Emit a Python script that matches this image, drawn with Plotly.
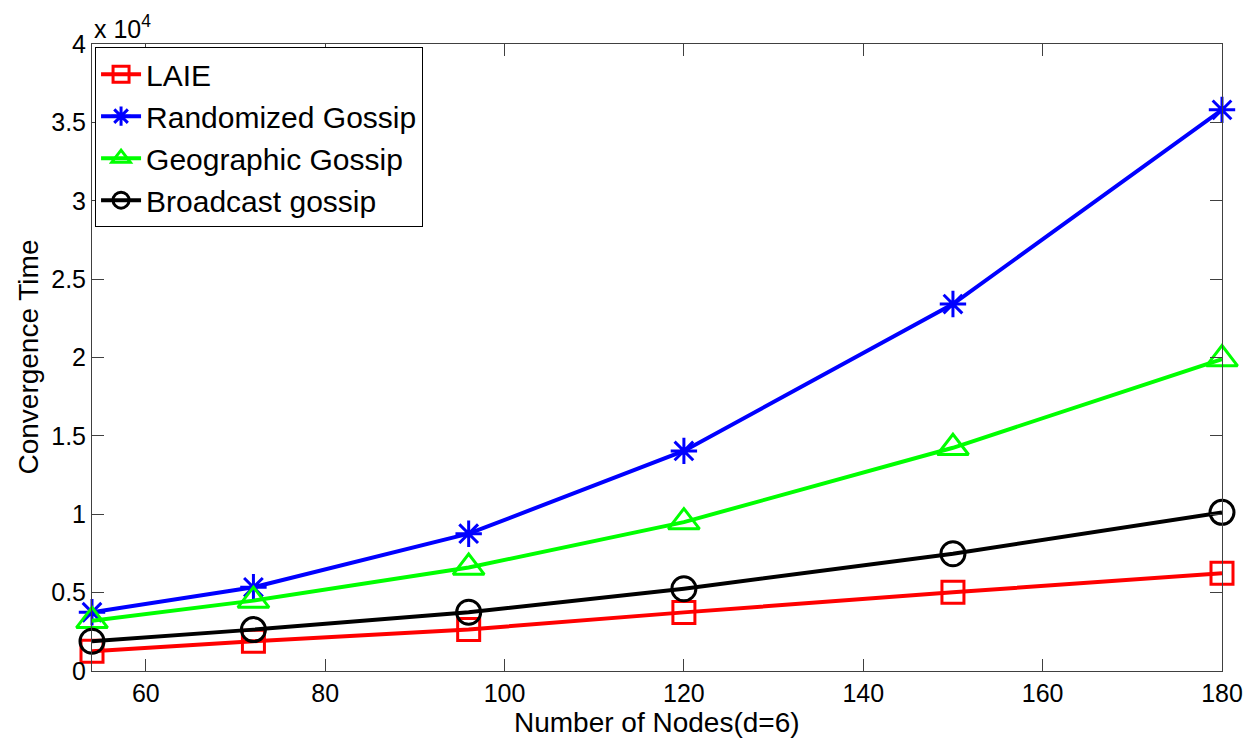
import plotly.graph_objects as go

nodes = [54, 72, 96, 120, 150, 180]
laie = [1260, 1900, 2650, 3740, 5020, 6230]
randomized = [3750, 5340, 8760, 14040, 23410, 35800]
geographic = [3200, 4490, 6600, 9500, 14240, 19900]
broadcast = [1900, 2640, 3750, 5250, 7480, 10120]

series_names = ["LAIE", "Randomized Gossip", "Geographic Gossip", "Broadcast gossip"]
series_values = [laie, randomized, geographic, broadcast]
colors = ["#FF0000", "#0000FF", "#00FF00", "#000000"]
symbols = ["square-open", "asterisk-open", "triangle-up-open", "circle-open"]
sizes = [22, 22, 27, 24]

x_ticks = [60, 80, 100, 120, 140, 160, 180]
y_ticks = [0, 5000, 10000, 15000, 20000, 25000, 30000, 35000, 40000]
y_tick_labels = ["0", "0.5", "1", "1.5", "2", "2.5", "3", "3.5", "4"]

FONT = "Liberation Sans, Arial, Helvetica, sans-serif"

fig = go.Figure()
for name, vals, c, s, sz in zip(series_names, series_values, colors, symbols, sizes):
    fig.add_trace(go.Scatter(
        x=nodes, y=vals, name=name, mode="lines+markers",
        line=dict(color=c, width=4),
        marker=dict(symbol=s, size=sz, color=c, line=dict(color=c, width=3)),
        cliponaxis=False,
    ))

axis_common = dict(
    showline=True, linecolor="#404040", linewidth=1, mirror="ticks",
    ticks="inside", ticklen=12, tickcolor="#404040", tickwidth=1,
    showgrid=False, zeroline=False, automargin=False,
    tickfont=dict(family=FONT, size=25, color="#000000"),
)

fig.update_layout(
    width=1253, height=740,
    margin=dict(l=92, r=31, t=44, b=69),
    paper_bgcolor="white", plot_bgcolor="white",
    font=dict(family=FONT, color="#000000"),
    showlegend=True,
    legend=dict(
        x=0.0027, y=0.995, xanchor="left", yanchor="top",
        bgcolor="white", bordercolor="#000000", borderwidth=1,
        font=dict(family=FONT, size=30, color="#000000"),
        itemwidth=40,
    ),
    xaxis=dict(range=[54, 180], tickvals=x_ticks, **axis_common),
    yaxis=dict(range=[0, 40000], tickvals=y_ticks, ticktext=y_tick_labels, **axis_common),
    annotations=[
        dict(text="x 10<sup>4</sup>", xref="paper", yref="paper", x=0, y=1.0,
             xanchor="left", yanchor="bottom", showarrow=False,
             font=dict(family=FONT, size=25, color="#000000"), yshift=-1),
        dict(text="Number of Nodes(d=6)", xref="paper", yref="paper", x=0.5, y=-0.0815,
             xanchor="center", yanchor="middle", showarrow=False,
             font=dict(family=FONT, size=28, color="#000000")),
        dict(text="Convergence Time", xref="paper", yref="paper", x=-0.0566, y=0.5,
             xanchor="center", yanchor="middle", showarrow=False, textangle=-90,
             font=dict(family=FONT, size=28, color="#000000")),
    ],
)

fig.write_html("out.html", config={"displayModeBar": False},
               post_script="document.body.style.margin='0px';")
